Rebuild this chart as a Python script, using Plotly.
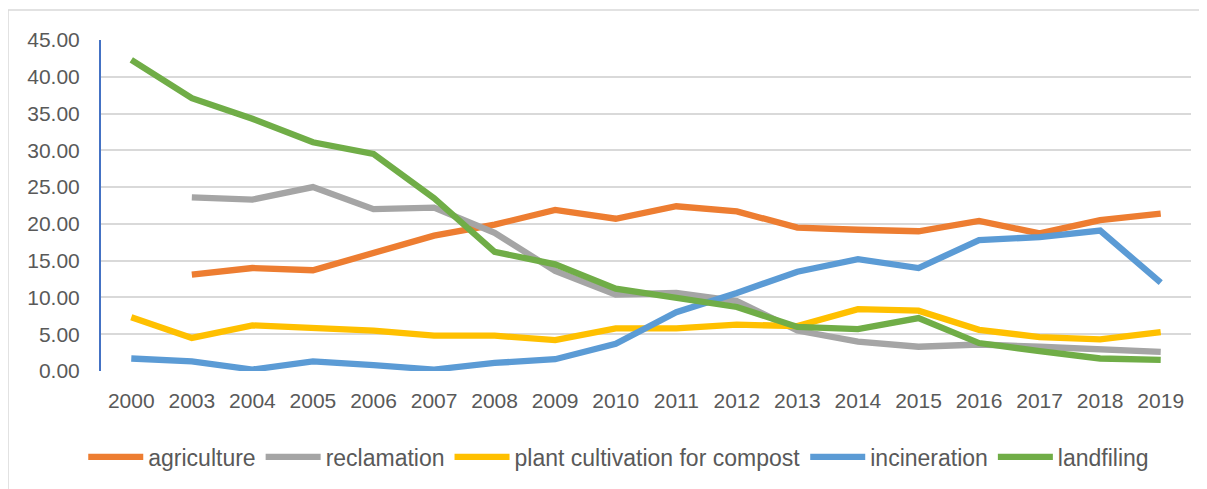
import plotly.graph_objects as go

years = ["2000", "2003", "2004", "2005", "2006", "2007", "2008", "2009", "2010",
         "2011", "2012", "2013", "2014", "2015", "2016", "2017", "2018", "2019"]
agriculture = [None, 13.1, 14.0, 13.7, 16.0, 18.4, 19.9, 21.9, 20.7, 22.4, 21.7,
               19.5, 19.2, 19.0, 20.4, 18.7, 20.5, 21.4]
reclamation = [None, 23.6, 23.3, 25.0, 22.0, 22.2, 18.8, 13.6, 10.4, 10.6, 9.5,
               5.5, 4.0, 3.3, 3.6, 3.3, 3.0, 2.6]
plant_cultivation = [7.3, 4.5, 6.2, 5.8, 5.5, 4.8, 4.8, 4.2, 5.8, 5.8, 6.3,
                     6.1, 8.4, 8.2, 5.6, 4.6, 4.3, 5.3]
incineration = [1.7, 1.3, 0.2, 1.3, 0.8, 0.2, 1.1, 1.6, 3.7, 8.0, 10.6,
                13.5, 15.2, 14.0, 17.8, 18.2, 19.1, 12.0]
landfiling = [42.3, 37.1, 34.3, 31.1, 29.5, 23.5, 16.2, 14.5, 11.2, 10.0, 8.7,
              6.0, 5.7, 7.2, 3.8, 2.7, 1.7, 1.5]

series = [
    ("agriculture", agriculture, "#ED7D31"),
    ("reclamation", reclamation, "#A5A5A5"),
    ("plant cultivation for compost", plant_cultivation, "#FFC000"),
    ("incineration", incineration, "#5B9BD5"),
    ("landfiling", landfiling, "#70AD47"),
]

fig = go.Figure()
for name, vals, color in series:
    fig.add_trace(go.Scatter(
        x=years, y=vals, name=name, mode="lines",
        line=dict(color=color, width=6.3),
        connectgaps=False,
    ))

font_family = "Liberation Sans, Arial, sans-serif"
L, R, T, B = 93, 16, 32, 117
W, H = 1199, 481
pw = W - L - R
ph = H - T - B
fig.update_layout(
    width=W, height=H,
    margin=dict(l=L, r=R, t=T, b=B),
    paper_bgcolor="white", plot_bgcolor="white",
    font=dict(family=font_family, color="#595959", size=21),
    xaxis=dict(
        type="category", range=[-0.5, 17.5],
        showgrid=False, zeroline=False, showline=False,
        tickfont=dict(size=21, color="#595959"),
        ticks="", ticklabelstandoff=15,
    ),
    yaxis=dict(
        range=[0, 45], dtick=5, tickformat=".2f",
        showgrid=True, gridcolor="#D9D9D9", gridwidth=2,
        zeroline=False,
        showline=True, linecolor="#4472C4", linewidth=2,
        tickfont=dict(size=21, color="#595959"),
        ticks="", ticklabelstandoff=15,
    ),
    legend=dict(
        orientation="h", x=0.475, xanchor="center", y=-0.256, yanchor="middle",
        font=dict(size=23, color="#595959"),
        itemwidth=55, bgcolor="rgba(0,0,0,0)",
    ),
    showlegend=True,
    shapes=[
        dict(type="line", xref="paper", yref="paper",
             x0=(0 - L) / pw, x1=(0 - L) / pw,
             y0=(T + ph - 2) / ph, y1=(T + ph - H - 10) / ph,
             line=dict(color="#D9D9D9", width=1.5)),
        dict(type="line", xref="paper", yref="paper",
             x0=(0 - L) / pw, x1=(W + 10 - L) / pw,
             y0=(T + ph - 2) / ph, y1=(T + ph - 2) / ph,
             line=dict(color="#D9D9D9", width=1.5)),
    ],
)

fig.write_html("out.html")
